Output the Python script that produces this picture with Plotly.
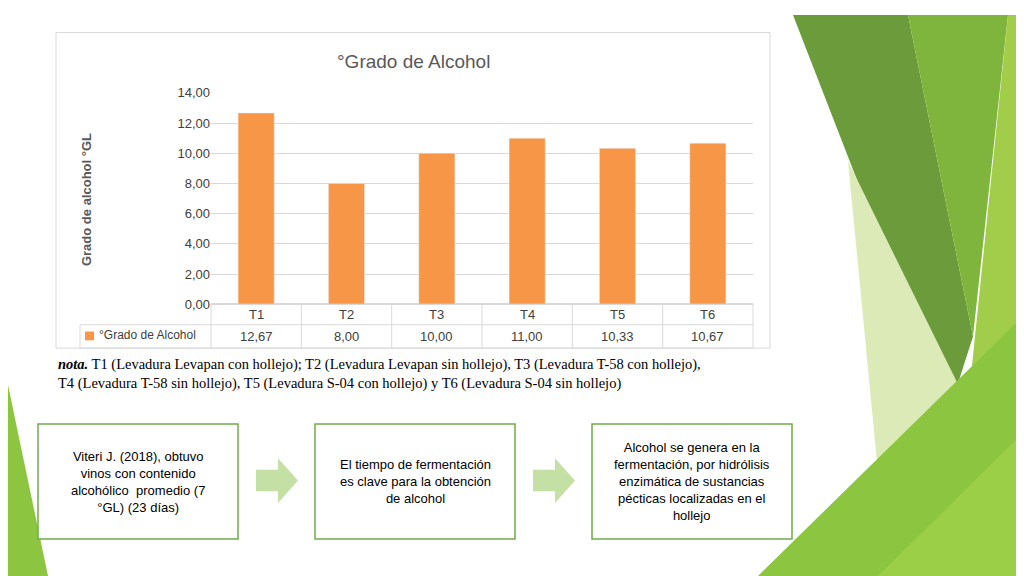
import plotly.graph_objects as go

W, H = 1024, 576

categories = ["T1", "T2", "T3", "T4", "T5", "T6"]
values = [12.67, 8.00, 10.00, 11.00, 10.33, 10.67]
value_labels = ["12,67", "8,00", "10,00", "11,00", "10,33", "10,67"]
tick_vals = [0, 2, 4, 6, 8, 10, 12, 14]
tick_text = ["0,00", "2,00", "4,00", "6,00", "8,00", "10,00", "12,00", "14,00"]
series_name = "°Grado de Alcohol"
boxes = [
    "Viteri J. (2018), obtuvo<br>vinos con contenido<br>alcohólico  promedio (7<br>°GL) (23 días)",
    "El tiempo de fermentación<br>es clave para la obtención<br>de alcohol",
    "Alcohol se genera en la<br>fermentación, por hidrólisis<br>enzimática de sustancias<br>pécticas localizadas en el<br>hollejo",
]


def px(x):
    return x / W


def py(y):
    return 1 - y / H


def poly(pts):
    return "M " + " L ".join(f"{px(x)},{py(y)}" for x, y in pts) + " Z"


def note_at(x, y, text, size=13, color="#404040", xanchor="center", **kw):
    return dict(x=px(x), y=py(y), text=text, showarrow=False, xref="paper", yref="paper",
                xanchor=xanchor, yanchor="middle", font=dict(size=size, color=color), **kw)


x0, x1 = 203, 745
fig = go.Figure()
fig.add_trace(go.Bar(x=categories, y=values, marker_color="#f79646", width=0.4, name=series_name))

shapes = []
annotations = []

# decorative green shapes
deco = [
    ([(785, 0), (900, 0), (965, 330), (940, 410)], "#6b9b3a"),
    ([(900, 0), (1000, 0), (965, 330)], "#7fb53c"),
    ([(1000, 0), (1024, 0), (1024, 576), (985, 576), (960, 400)], "#a2cd4a"),
    ([(840, 150), (960, 400), (905, 576), (880, 576)], "#dceab8"),
    ([(750, 576), (1024, 300), (1024, 576)], "#8cc540"),
    ([(870, 576), (1024, 420), (1024, 576)], "#9ccf48"),
    ([(0, 380), (40, 576), (0, 576)], "#8cc540"),
]
for pts, col in deco:
    shapes.append(dict(type="path", path=poly(pts), xref="paper", yref="paper",
                       fillcolor=col, line_width=0, layer="below"))

# chart background frame
shapes.append(dict(type="rect", xref="paper", yref="paper", x0=px(48), x1=px(762), y0=py(342), y1=py(18),
                   fillcolor="white", line=dict(color="#d9d9d9", width=1), layer="below"))

# data table
col_w = (x1 - x0) / 6
for yy in (297, 318, 342):
    xs = 72 if yy != 297 else x0
    shapes.append(dict(type="line", xref="paper", yref="paper", x0=px(xs), x1=px(x1), y0=py(yy), y1=py(yy),
                       line=dict(color="#d9d9d9", width=1)))
shapes.append(dict(type="line", xref="paper", yref="paper", x0=px(72), x1=px(72), y0=py(318), y1=py(342),
                   line=dict(color="#d9d9d9", width=1)))
for i in range(7):
    xx = x0 + i * col_w
    shapes.append(dict(type="line", xref="paper", yref="paper", x0=px(xx), x1=px(xx), y0=py(297), y1=py(342),
                       line=dict(color="#d9d9d9", width=1)))
for i, (c, v) in enumerate(zip(categories, value_labels)):
    cx = x0 + (i + 0.5) * col_w
    annotations.append(note_at(cx, 307, c))
    annotations.append(note_at(cx, 330, v))
shapes.append(dict(type="rect", xref="paper", yref="paper", x0=px(77), x1=px(86), y0=py(334), y1=py(325),
                   fillcolor="#f79646", line_width=0))
annotations.append(note_at(89, 329, series_name, size=12, xanchor="left"))

annotations.append(note_at(405, 48, "°Grado de Alcohol", size=19, color="#595959"))
annotations.append(note_at(78, 190, "<b>Grado de alcohol °GL</b>", color="#595959", textangle=-90))

note = ("<b><i>nota.</i></b> T1 (Levadura Levapan con hollejo); T2 (Levadura Levapan sin hollejo), "
        "T3 (Levadura T-58 con hollejo),<br>T4 (Levadura T-58 sin hollejo), T5 (Levadura S-04 con hollejo) "
        "y T6 (Levadura S-04 sin hollejo)")
nt = note_at(48, 369, note, size=14.5, color="black", xanchor="left", align="left")
nt["font"]["family"] = "Liberation Serif"
annotations.append(nt)

# process boxes and arrows
for i, txt in enumerate(boxes):
    bx = 30 + i * 277
    shapes.append(dict(type="rect", xref="paper", yref="paper", x0=px(bx), x1=px(bx + 200),
                       y0=py(538), y1=py(420), fillcolor="white",
                       line=dict(color="#70ad47", width=1.5)))
    annotations.append(note_at(bx + 100, 479, txt, color="black"))
for ax in (248, 525):
    pts = [(ax, 467), (ax + 22, 467), (ax + 22, 455), (ax + 42, 478), (ax + 22, 501), (ax + 22, 489), (ax, 489)]
    shapes.append(dict(type="path", path=poly(pts), xref="paper", yref="paper",
                       fillcolor="#c5e0a5", line_width=0))

fig.update_layout(
    width=W, height=H, margin=dict(l=0, r=0, t=0, b=0),
    paper_bgcolor="white", plot_bgcolor="white", showlegend=False,
    xaxis=dict(domain=[px(x0), px(x1)], anchor="y", showticklabels=False, showline=False, showgrid=False),
    yaxis=dict(domain=[py(297), py(80)], range=[0, 14], tickvals=tick_vals, ticktext=tick_text,
               gridcolor="#d9d9d9", zeroline=True, zerolinecolor="#d9d9d9",
               tickfont=dict(size=13, color="#404040")),
    shapes=shapes, annotations=annotations,
    font=dict(family="Liberation Sans"),
)

fig.write_html("out.html")
